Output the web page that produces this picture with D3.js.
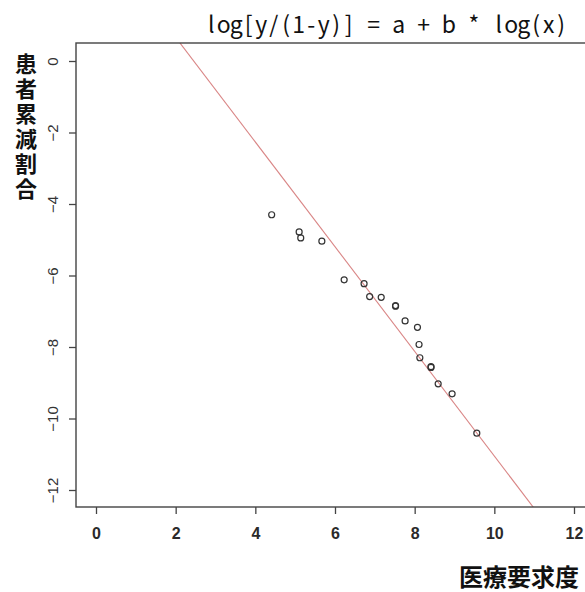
<!DOCTYPE html>
<html>
<head>
<meta charset="utf-8">
<script src="https://cdn.jsdelivr.net/npm/d3@7"></script>
<style>
  body { margin: 0; background: #fff; }
  svg { display: block; }
</style>
</head>
<body>
<script>
const w = 585;
const h = 592;

// data: x = log(医療要求度), y = log[y/(1-y)]
const xValues = [4.41, 5.10, 5.14, 5.67, 6.23, 6.73, 6.87, 7.16, 7.52, 7.52, 7.76, 8.07, 8.11, 8.13, 8.41, 8.41, 8.59, 8.94, 9.56];
const yValues = [-4.30, -4.78, -4.95, -5.04, -6.12, -6.23, -6.59, -6.61, -6.84, -6.86, -7.27, -7.45, -7.93, -8.30, -8.55, -8.57, -9.03, -9.31, -10.41];
const fitA = 3.59;
const fitB = -1.464;
const xTicks = [0, 2, 4, 6, 8, 10, 12];
const yTicks = [0, -2, -4, -6, -8, -10, -12];
const titleText = "log[y/(1-y)] = a + b * log(x)";
const yLabel = "患者累減割合";
const xLabel = "医療要求度";

var dataset = xValues.map((x, i) => ({ x: x, y: yValues[i] }));

const plot = { left: 76, top: 43, right: 596, bottom: 507 };

var scaleX = d3.scaleLinear()
  .domain([0, 12])
  .range([96, 574]);

var scaleY = d3.scaleLinear()
  .domain([0, -12])
  .range([61, 490]);

var svg = d3.select("body")
  .append("svg")
  .attr("width", w)
  .attr("height", h);

// clip for the fitted line
svg.append("clipPath")
  .attr("id", "plotclip")
  .append("rect")
  .attr("x", plot.left)
  .attr("y", plot.top)
  .attr("width", plot.right - plot.left)
  .attr("height", plot.bottom - plot.top);

// fitted line
var xLo = scaleX.invert(plot.left), xHi = scaleX.invert(plot.right);
svg.append("line")
  .attr("clip-path", "url(#plotclip)")
  .attr("x1", scaleX(xLo))
  .attr("y1", scaleY(fitA + fitB * xLo))
  .attr("x2", scaleX(xHi))
  .attr("y2", scaleY(fitA + fitB * xHi))
  .style("stroke", "#d98585")
  .style("stroke-width", 1.1);

// points
svg.append("g")
  .selectAll("circle")
  .data(dataset)
  .enter()
  .append("circle")
  .attr("cx", d => scaleX(d.x))
  .attr("cy", d => scaleY(d.y))
  .attr("r", 3)
  .style("fill", "none")
  .style("stroke", "#333")
  .style("stroke-width", 1.2);

// box
svg.append("rect")
  .attr("x", plot.left)
  .attr("y", plot.top)
  .attr("width", plot.right - plot.left)
  .attr("height", plot.bottom - plot.top)
  .style("fill", "none")
  .style("stroke", "#444")
  .style("stroke-width", 1.4);

// x axis
var xAxis = svg.append("g")
  .attr("transform", "translate(0," + plot.bottom + ")")
  .call(d3.axisBottom(scaleX).tickValues(xTicks).tickSize(7).tickPadding(14).tickFormat(d3.format("d")));
xAxis.select(".domain").remove();
xAxis.selectAll("line").style("stroke", "#444").style("stroke-width", 1.3);
xAxis.selectAll("text")
  .style("font-family", "Liberation Sans, Arial, sans-serif")
  .style("font-size", "16px")
  .style("font-weight", "bold")
  .style("fill", "#2a2a2a");

// y axis, labels rotated like R's las=0
var yAxis = svg.append("g")
  .attr("transform", "translate(" + plot.left + ",0)")
  .call(d3.axisLeft(scaleY).tickValues(yTicks).tickSize(7).tickFormat(d3.format("d")));
yAxis.select(".domain").remove();
yAxis.selectAll("line").style("stroke", "#444").style("stroke-width", 1.3);
yAxis.selectAll("text")
  .attr("x", null)
  .attr("text-anchor", "middle")
  .attr("transform", "translate(-23,0) rotate(-90)")
  .attr("dy", "0.35em")
  .style("font-family", "Liberation Sans, Arial, sans-serif")
  .style("font-size", "15px")
  .style("fill", "#333");

// title, one fixed-width cell per character like a gothic mono font
var titleChars = Array.from(titleText);
svg.append("text")
  .attr("y", 33)
  .style("font-family", "Noto Sans CJK JP, sans-serif")
  .style("font-size", "23px")
  .style("fill", "#111")
  .selectAll("tspan")
  .data(titleChars)
  .enter()
  .append("tspan")
  .attr("x", (d, i) => 205 + (i + 0.5) * 12.5)
  .attr("text-anchor", "middle")
  .text(d => d);

// y label, written vertically
svg.append("text")
  .attr("x", 26)
  .attr("y", 53)
  .style("writing-mode", "vertical-rl")
  .style("font-family", "Noto Sans CJK JP, sans-serif")
  .style("font-size", "22px")
  .style("letter-spacing", "3px")
  .style("font-weight", "bold")
  .style("fill", "#111")
  .text(yLabel);

// x label
svg.append("text")
  .attr("x", 579)
  .attr("y", 586)
  .attr("text-anchor", "end")
  .style("font-family", "Noto Sans CJK JP, sans-serif")
  .style("font-size", "24px")
  .style("font-weight", "bold")
  .style("fill", "#111")
  .text(xLabel);
</script>
</body>
</html>
